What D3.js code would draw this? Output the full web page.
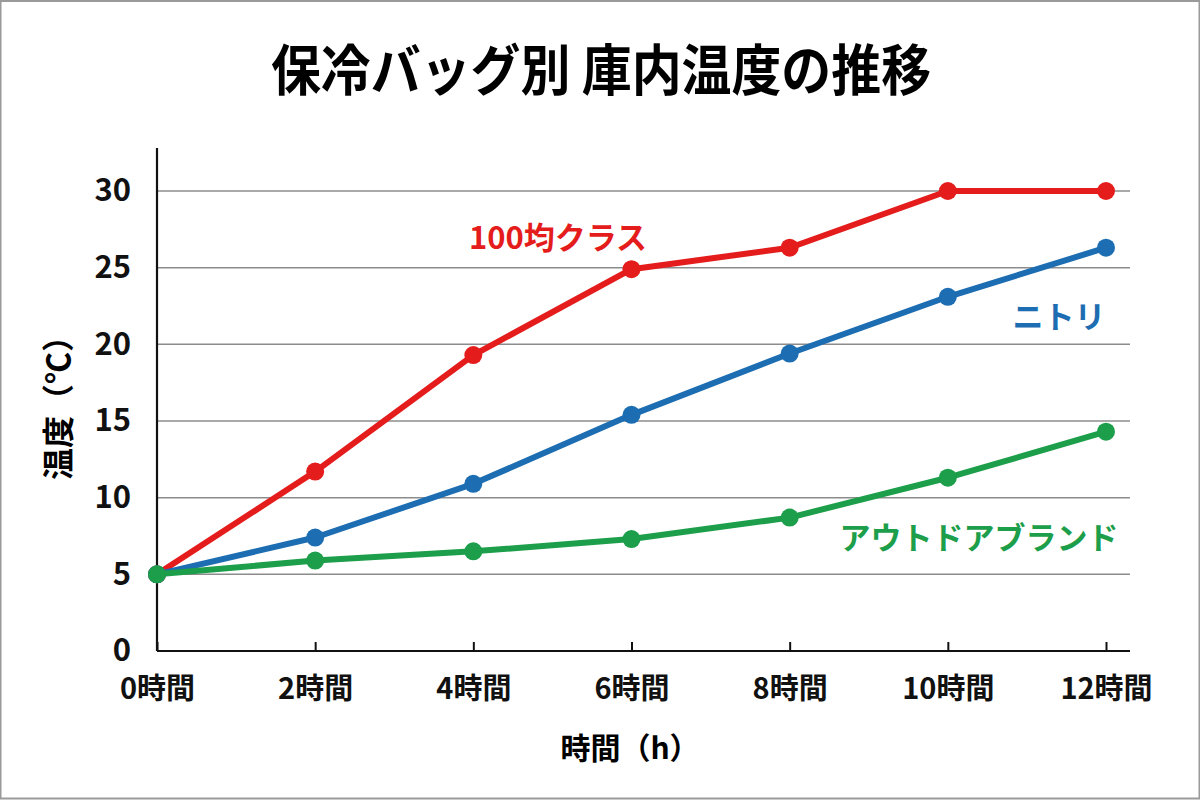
<!DOCTYPE html>
<html lang="ja">
<head>
<meta charset="UTF-8">
<title>保冷バッグ別 庫内温度の推移</title>
<script src="https://cdn.jsdelivr.net/npm/d3@7"></script>
<style>
  body { margin: 0; background: #fff; }
  svg text { font-family: "Noto Sans CJK JP", "Noto Sans", sans-serif; font-weight: 700; }
  .num { font-family: "Liberation Sans Narrow", "Noto Sans CJK JP", sans-serif; }
</style>
</head>
<body>
<script>
// data
const hours = [0, 2, 4, 6, 8, 10, 12];
const hourLabels = ['0時間', '2時間', '4時間', '6時間', '8時間', '10時間', '12時間'];
const yTicks = [0, 5, 10, 15, 20, 25, 30];
const seriesNames = ['100均クラス', 'ニトリ', 'アウトドアブランド'];
const cheapVals = [5, 11.7, 19.3, 24.9, 26.3, 30, 30];
const nitoriVals = [5, 7.4, 10.9, 15.4, 19.4, 23.1, 26.3];
const outdoorVals = [5, 5.9, 6.5, 7.3, 8.7, 11.3, 14.3];
const colors = ['#e41c1c', '#1c6db2', '#1c9e4a'];

const width = 1200, height = 800;
const svg = d3.select('body').append('svg')
  .attr('width', width)
  .attr('height', height);

svg.append('rect')
  .attr('x', 0.5).attr('y', 1)
  .attr('width', width - 1).attr('height', height - 2.5)
  .attr('fill', '#fff')
  .attr('stroke', '#9a9a9a')
  .attr('stroke-width', 2);

const x = d3.scaleLinear().domain([0, 12]).range([157, 1106]);
const y = d3.scaleLinear().domain([0, 30]).range([651, 191]);

// title (slightly condensed, like the original)
svg.append('text')
  .attr('transform', 'translate(601,90) scale(0.96,1.06)')
  .attr('text-anchor', 'middle')
  .attr('font-size', 52)
  .attr('font-weight', 900)
  .text('保冷バッグ別 庫内温度の推移');

// gridlines
svg.append('g')
  .selectAll('line')
  .data(yTicks.filter(d => d > 0))
  .join('line')
  .attr('x1', x(0)).attr('x2', 1130)
  .attr('y1', d => y(d)).attr('y2', d => y(d))
  .attr('stroke', '#8c8c8c')
  .attr('stroke-width', 1.5);

// y axis
const yAxis = d3.axisLeft(y).tickValues(yTicks).tickSize(0).tickPadding(26);
const yG = svg.append('g')
  .attr('transform', 'translate(' + x(0) + ',0)')
  .call(yAxis);
yG.select('.domain').remove();
yG.append('line')
  .attr('x1', 0).attr('x2', 0)
  .attr('y1', 148).attr('y2', y(0))
  .attr('stroke', '#111').attr('stroke-width', 2.2);
yG.selectAll('.tick text')
  .attr('class', 'num')
  .attr('font-size', 31)
  .attr('fill', '#111');

// x axis
const xAxis = d3.axisBottom(x).tickValues(hours)
  .tickFormat((d, i) => hourLabels[i])
  .tickSize(-9).tickPadding(27);
const xG = svg.append('g')
  .attr('transform', 'translate(0,' + y(0) + ')')
  .call(xAxis);
xG.select('.domain').remove();
xG.append('line')
  .attr('x1', x(0)).attr('x2', 1130)
  .attr('stroke', '#111').attr('stroke-width', 2.2);
xG.selectAll('.tick line').attr('stroke', '#111').attr('stroke-width', 2);
xG.selectAll('.tick text')
  .attr('font-size', 29)
  .attr('fill', '#111');

// axis titles
svg.append('text')
  .attr('transform', 'translate(70,400) rotate(-90)')
  .attr('text-anchor', 'middle')
  .attr('font-size', 32)
  .text('温度（℃）');
svg.append('text')
  .attr('x', 630).attr('y', 759)
  .attr('text-anchor', 'middle')
  .attr('font-size', 30)
  .text('時間（h）');

// lines (green drawn last, so its dot is on top at the start point)
const series = [cheapVals, nitoriVals, outdoorVals];
const line = d3.line().x((d, i) => x(hours[i])).y(d => y(d));
series.forEach(function (vals, k) {
  const g = svg.append('g');
  g.append('path')
    .datum(vals)
    .attr('d', line)
    .attr('fill', 'none')
    .attr('stroke', colors[k])
    .attr('stroke-width', 6)
    .attr('stroke-linejoin', 'round');
  g.selectAll('circle')
    .data(vals)
    .join('circle')
    .attr('cx', (d, i) => x(hours[i]))
    .attr('cy', d => y(d))
    .attr('r', 9)
    .attr('fill', colors[k]);
});

// series labels
const labelPos = [[558, 249], [1059, 328], [979, 549]];
seriesNames.forEach(function (n, k) {
  svg.append('text')
    .attr('x', labelPos[k][0]).attr('y', labelPos[k][1])
    .attr('text-anchor', 'middle')
    .attr('font-size', 31)
    .attr('fill', colors[k])
    .text(n);
});
</script>
</body>
</html>
